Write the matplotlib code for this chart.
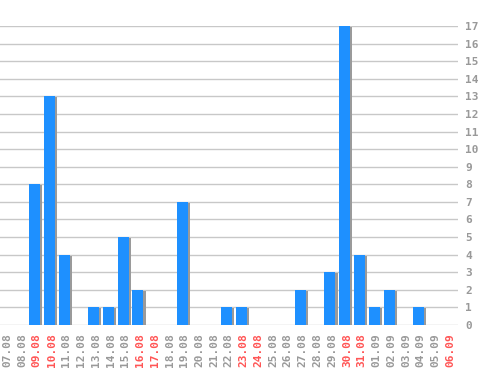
import numpy as np
import matplotlib.pyplot as plt

days = ["07.08", "08.08", "09.08", "10.08", "11.08", "12.08", "13.08", "14.08",
        "15.08", "16.08", "17.08", "18.08", "19.08", "20.08", "21.08", "22.08",
        "23.08", "24.08", "25.08", "26.08", "27.08", "28.08", "29.08", "30.08",
        "31.08", "01.09", "02.09", "03.09", "04.09", "05.09", "06.09"]
counts = [0, 0, 8, 13, 4, 0, 1, 1, 5, 2, 0, 0, 7, 0, 0, 1,
          1, 0, 0, 0, 2, 0, 3, 17, 4, 1, 2, 0, 1, 0, 0]
weekend = ["09.08", "10.08", "16.08", "17.08", "23.08", "24.08",
           "30.08", "31.08", "06.09"]

fig = plt.figure(figsize=(4.98, 3.7), dpi=100)
ax = fig.add_axes([0, 45/370, 458/498, (325-26)/370])

x = np.arange(len(days))
w = 0.745
# shadow
ax.bar(x + 0.14, counts, width=w, bottom=-0.06, color="#9a9a9a", zorder=2)
ax.bar(x, counts, width=w, color="#1e90ff", zorder=3)

ax.set_xlim(-0.34, 30.67)
ax.set_ylim(0, 17)
ax.set_yticks(range(0, 18))
ax.yaxis.grid(True, color="#c8c8c8", linewidth=1, zorder=0)
ax.set_axisbelow(True)
ax.yaxis.tick_right()
ax.tick_params(axis="y", length=0, pad=5, labelsize=8, labelcolor="#999999")
for lab in ax.get_yticklabels():
    lab.set_family("DejaVu Sans Mono")
    lab.set_weight("bold")

ax.set_xticks(x + 0.15)
ax.set_xticklabels(days, rotation=90, family="DejaVu Sans Mono",
                   fontsize=8, weight="bold")
ax.tick_params(axis="x", length=0, pad=6)
for lab in ax.get_xticklabels():
    lab.set_color("#ff5555" if lab.get_text() in weekend else "#999999")

for s in ax.spines.values():
    s.set_visible(False)

fig.savefig("out.png", dpi=100, facecolor="white")
